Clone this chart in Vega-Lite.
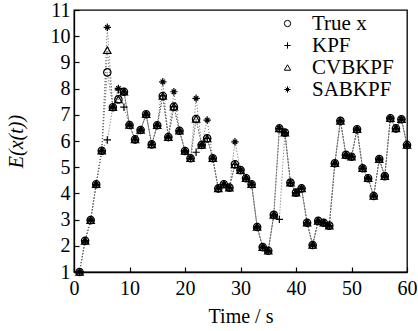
{
  "$schema": "https://vega.github.io/schema/vega-lite/v6.json",
  "width": 333,
  "height": 262,
  "autosize": {"type": "none"},
  "padding": {"left": 74, "top": 10, "right": 11, "bottom": 59},
  "background": "white",
  "config": {
    "font": "Liberation Serif",
    "view": {"stroke": "black", "strokeWidth": 1.3},
    "axis": {
      "domainColor": "black", "tickColor": "black", "labelColor": "black", "titleColor": "black",
      "labelFont": "Liberation Serif", "titleFont": "Liberation Serif",
      "labelFontSize": 20, "titleFontSize": 20, "titleFontWeight": "normal",
      "grid": false, "tickSize": -5, "domainWidth": 1.3, "tickWidth": 1.2
    },
    "legend": {"labelFont": "Liberation Serif", "labelFontSize": 21, "labelColor": "black"}
  },
  "data": {"values": [
    {"t":1,"s":"True x","v":1.0},{"t":2,"s":"True x","v":2.19},{"t":3,"s":"True x","v":2.98},{"t":4,"s":"True x","v":4.35},{"t":5,"s":"True x","v":5.63},{"t":6,"s":"True x","v":8.62},{"t":7,"s":"True x","v":7.29},{"t":8,"s":"True x","v":7.59},{"t":9,"s":"True x","v":7.88},{"t":10,"s":"True x","v":6.61},
    {"t":11,"s":"True x","v":6.06},{"t":12,"s":"True x","v":6.42},{"t":13,"s":"True x","v":7.02},{"t":14,"s":"True x","v":5.87},{"t":15,"s":"True x","v":6.6},{"t":16,"s":"True x","v":7.72},{"t":17,"s":"True x","v":6.15},{"t":18,"s":"True x","v":7.31},{"t":19,"s":"True x","v":6.39},{"t":20,"s":"True x","v":5.62},
    {"t":21,"s":"True x","v":5.34},{"t":22,"s":"True x","v":6.84},{"t":23,"s":"True x","v":5.85},{"t":24,"s":"True x","v":6.1},{"t":25,"s":"True x","v":5.34},{"t":26,"s":"True x","v":4.19},{"t":27,"s":"True x","v":4.35},{"t":28,"s":"True x","v":4.22},{"t":29,"s":"True x","v":5.11},{"t":30,"s":"True x","v":4.89},
    {"t":31,"s":"True x","v":4.58},{"t":32,"s":"True x","v":4.35},{"t":33,"s":"True x","v":2.72},{"t":34,"s":"True x","v":1.95},{"t":35,"s":"True x","v":1.81},{"t":36,"s":"True x","v":3.18},{"t":37,"s":"True x","v":6.48},{"t":38,"s":"True x","v":6.32},{"t":39,"s":"True x","v":4.41},{"t":40,"s":"True x","v":4.03},
    {"t":41,"s":"True x","v":4.19},{"t":42,"s":"True x","v":2.88},{"t":43,"s":"True x","v":2.03},{"t":44,"s":"True x","v":2.95},{"t":45,"s":"True x","v":2.88},{"t":46,"s":"True x","v":2.77},{"t":47,"s":"True x","v":5.15},{"t":48,"s":"True x","v":6.77},{"t":49,"s":"True x","v":5.47},{"t":50,"s":"True x","v":5.4},
    {"t":51,"s":"True x","v":6.45},{"t":52,"s":"True x","v":4.96},{"t":53,"s":"True x","v":4.58},{"t":54,"s":"True x","v":3.9},{"t":55,"s":"True x","v":5.31},{"t":56,"s":"True x","v":4.66},{"t":57,"s":"True x","v":6.87},{"t":58,"s":"True x","v":6.48},{"t":59,"s":"True x","v":6.83},{"t":60,"s":"True x","v":5.85},

    {"t":1,"s":"KPF","v":1.0},{"t":2,"s":"KPF","v":2.19},{"t":3,"s":"KPF","v":2.98},{"t":4,"s":"KPF","v":4.35},{"t":5,"s":"KPF","v":5.63},{"t":6,"s":"KPF","v":6.04},{"t":7,"s":"KPF","v":7.29},{"t":8,"s":"KPF","v":7.95},{"t":9,"s":"KPF","v":7.29},{"t":10,"s":"KPF","v":6.61},
    {"t":11,"s":"KPF","v":6.06},{"t":12,"s":"KPF","v":6.42},{"t":13,"s":"KPF","v":7.02},{"t":14,"s":"KPF","v":5.87},{"t":15,"s":"KPF","v":6.6},{"t":16,"s":"KPF","v":7.72},{"t":17,"s":"KPF","v":6.15},{"t":18,"s":"KPF","v":7.31},{"t":19,"s":"KPF","v":6.39},{"t":20,"s":"KPF","v":5.62},
    {"t":21,"s":"KPF","v":5.34},{"t":22,"s":"KPF","v":5.57},{"t":23,"s":"KPF","v":5.85},{"t":24,"s":"KPF","v":6.1},{"t":25,"s":"KPF","v":5.34},{"t":26,"s":"KPF","v":4.19},{"t":27,"s":"KPF","v":4.35},{"t":28,"s":"KPF","v":4.22},{"t":29,"s":"KPF","v":5.11},{"t":30,"s":"KPF","v":4.89},
    {"t":31,"s":"KPF","v":4.58},{"t":32,"s":"KPF","v":4.35},{"t":33,"s":"KPF","v":2.72},{"t":34,"s":"KPF","v":1.95},{"t":35,"s":"KPF","v":1.81},{"t":36,"s":"KPF","v":3.18},{"t":37,"s":"KPF","v":3.01},{"t":38,"s":"KPF","v":6.32},{"t":39,"s":"KPF","v":4.41},{"t":40,"s":"KPF","v":4.03},
    {"t":41,"s":"KPF","v":4.19},{"t":42,"s":"KPF","v":2.88},{"t":43,"s":"KPF","v":2.03},{"t":44,"s":"KPF","v":2.95},{"t":45,"s":"KPF","v":2.88},{"t":46,"s":"KPF","v":2.77},{"t":47,"s":"KPF","v":5.15},{"t":48,"s":"KPF","v":6.77},{"t":49,"s":"KPF","v":5.47},{"t":50,"s":"KPF","v":5.4},
    {"t":51,"s":"KPF","v":6.45},{"t":52,"s":"KPF","v":4.96},{"t":53,"s":"KPF","v":4.58},{"t":54,"s":"KPF","v":3.9},{"t":55,"s":"KPF","v":5.31},{"t":56,"s":"KPF","v":4.66},{"t":57,"s":"KPF","v":6.87},{"t":58,"s":"KPF","v":6.48},{"t":59,"s":"KPF","v":6.83},{"t":60,"s":"KPF","v":5.85},

    {"t":1,"s":"CVBKPF","v":1.0},{"t":2,"s":"CVBKPF","v":2.19},{"t":3,"s":"CVBKPF","v":2.98},{"t":4,"s":"CVBKPF","v":4.35},{"t":5,"s":"CVBKPF","v":5.63},{"t":6,"s":"CVBKPF","v":9.47},{"t":7,"s":"CVBKPF","v":7.29},{"t":8,"s":"CVBKPF","v":7.59},{"t":9,"s":"CVBKPF","v":7.88},{"t":10,"s":"CVBKPF","v":6.61},
    {"t":11,"s":"CVBKPF","v":6.06},{"t":12,"s":"CVBKPF","v":6.42},{"t":13,"s":"CVBKPF","v":7.02},{"t":14,"s":"CVBKPF","v":5.87},{"t":15,"s":"CVBKPF","v":6.6},{"t":16,"s":"CVBKPF","v":7.72},{"t":17,"s":"CVBKPF","v":6.15},{"t":18,"s":"CVBKPF","v":7.31},{"t":19,"s":"CVBKPF","v":6.39},{"t":20,"s":"CVBKPF","v":5.62},
    {"t":21,"s":"CVBKPF","v":5.34},{"t":22,"s":"CVBKPF","v":6.84},{"t":23,"s":"CVBKPF","v":5.85},{"t":24,"s":"CVBKPF","v":6.1},{"t":25,"s":"CVBKPF","v":5.34},{"t":26,"s":"CVBKPF","v":4.19},{"t":27,"s":"CVBKPF","v":4.35},{"t":28,"s":"CVBKPF","v":4.22},{"t":29,"s":"CVBKPF","v":5.11},{"t":30,"s":"CVBKPF","v":4.89},
    {"t":31,"s":"CVBKPF","v":4.58},{"t":32,"s":"CVBKPF","v":4.35},{"t":33,"s":"CVBKPF","v":2.72},{"t":34,"s":"CVBKPF","v":1.95},{"t":35,"s":"CVBKPF","v":1.81},{"t":36,"s":"CVBKPF","v":3.18},{"t":37,"s":"CVBKPF","v":6.48},{"t":38,"s":"CVBKPF","v":6.32},{"t":39,"s":"CVBKPF","v":4.41},{"t":40,"s":"CVBKPF","v":4.03},
    {"t":41,"s":"CVBKPF","v":4.19},{"t":42,"s":"CVBKPF","v":2.88},{"t":43,"s":"CVBKPF","v":2.03},{"t":44,"s":"CVBKPF","v":2.95},{"t":45,"s":"CVBKPF","v":2.88},{"t":46,"s":"CVBKPF","v":2.77},{"t":47,"s":"CVBKPF","v":5.15},{"t":48,"s":"CVBKPF","v":6.77},{"t":49,"s":"CVBKPF","v":5.47},{"t":50,"s":"CVBKPF","v":5.4},
    {"t":51,"s":"CVBKPF","v":6.45},{"t":52,"s":"CVBKPF","v":4.96},{"t":53,"s":"CVBKPF","v":4.58},{"t":54,"s":"CVBKPF","v":3.9},{"t":55,"s":"CVBKPF","v":5.31},{"t":56,"s":"CVBKPF","v":4.66},{"t":57,"s":"CVBKPF","v":6.87},{"t":58,"s":"CVBKPF","v":6.48},{"t":59,"s":"CVBKPF","v":6.83},{"t":60,"s":"CVBKPF","v":5.85},

    {"t":1,"s":"SABKPF","v":1.0},{"t":2,"s":"SABKPF","v":2.19},{"t":3,"s":"SABKPF","v":2.98},{"t":4,"s":"SABKPF","v":4.35},{"t":5,"s":"SABKPF","v":5.63},{"t":6,"s":"SABKPF","v":10.34},{"t":7,"s":"SABKPF","v":7.29},{"t":8,"s":"SABKPF","v":8.01},{"t":9,"s":"SABKPF","v":7.88},{"t":10,"s":"SABKPF","v":6.61},
    {"t":11,"s":"SABKPF","v":6.06},{"t":12,"s":"SABKPF","v":6.42},{"t":13,"s":"SABKPF","v":7.02},{"t":14,"s":"SABKPF","v":5.87},{"t":15,"s":"SABKPF","v":6.6},{"t":16,"s":"SABKPF","v":8.26},{"t":17,"s":"SABKPF","v":6.15},{"t":18,"s":"SABKPF","v":7.88},{"t":19,"s":"SABKPF","v":6.39},{"t":20,"s":"SABKPF","v":5.62},
    {"t":21,"s":"SABKPF","v":5.34},{"t":22,"s":"SABKPF","v":7.63},{"t":23,"s":"SABKPF","v":5.85},{"t":24,"s":"SABKPF","v":6.8},{"t":25,"s":"SABKPF","v":5.34},{"t":26,"s":"SABKPF","v":4.19},{"t":27,"s":"SABKPF","v":4.35},{"t":28,"s":"SABKPF","v":4.22},{"t":29,"s":"SABKPF","v":5.97},{"t":30,"s":"SABKPF","v":4.89},
    {"t":31,"s":"SABKPF","v":4.58},{"t":32,"s":"SABKPF","v":4.35},{"t":33,"s":"SABKPF","v":2.72},{"t":34,"s":"SABKPF","v":1.95},{"t":35,"s":"SABKPF","v":1.81},{"t":36,"s":"SABKPF","v":3.18},{"t":37,"s":"SABKPF","v":6.48},{"t":38,"s":"SABKPF","v":6.32},{"t":39,"s":"SABKPF","v":4.41},{"t":40,"s":"SABKPF","v":4.03},
    {"t":41,"s":"SABKPF","v":4.19},{"t":42,"s":"SABKPF","v":2.88},{"t":43,"s":"SABKPF","v":2.03},{"t":44,"s":"SABKPF","v":2.95},{"t":45,"s":"SABKPF","v":2.88},{"t":46,"s":"SABKPF","v":2.77},{"t":47,"s":"SABKPF","v":5.15},{"t":48,"s":"SABKPF","v":6.77},{"t":49,"s":"SABKPF","v":5.47},{"t":50,"s":"SABKPF","v":5.4},
    {"t":51,"s":"SABKPF","v":6.45},{"t":52,"s":"SABKPF","v":4.96},{"t":53,"s":"SABKPF","v":4.58},{"t":54,"s":"SABKPF","v":3.9},{"t":55,"s":"SABKPF","v":5.31},{"t":56,"s":"SABKPF","v":4.66},{"t":57,"s":"SABKPF","v":6.87},{"t":58,"s":"SABKPF","v":6.48},{"t":59,"s":"SABKPF","v":6.83},{"t":60,"s":"SABKPF","v":5.85}
  ]},
  "encoding": {
    "x": {"field": "t", "type": "quantitative", "scale": {"domain": [0, 60], "nice": false},
          "axis": {"title": "Time / s", "values": [0,10,20,30,40,50,60], "labelPadding": 11, "titlePadding": 8, "labelFlush": false}},
    "y": {"field": "v", "type": "quantitative", "scale": {"domain": [1, 11], "nice": false, "zero": false},
          "axis": {"title": "E(x(t))", "titleFontStyle": "italic", "values": [1,2,3,4,5,6,7,8,9,10,11], "labelPadding": 9, "titlePadding": 24, "labelFlush": false}}
  },
  "layer": [
    {
      "mark": {"type": "line", "strokeDash": [1, 2], "strokeWidth": 1, "color": "#666"},
      "encoding": {"detail": {"field": "s"}}
    },
    {
      "mark": {"type": "point", "filled": false, "color": "black", "strokeWidth": 1.2, "opacity": 1, "size": 55},
      "encoding": {
        "shape": {"field": "s", "type": "nominal",
          "scale": {"domain": ["True x", "KPF", "CVBKPF", "SABKPF"],
                    "range": ["circle", "M-1,0H1M0,-1V1", "triangle-up", "M-1,0H1M0,-1V1M-0.6,-0.6L0.6,0.6M-0.6,0.6L0.6,-0.6"]},
          "legend": {"title": null, "orient": "none", "legendX": 203, "legendY": 3, "rowPadding": 0,
                     "symbolSize": 40, "symbolStrokeColor": "black", "symbolFillColor": "transparent", "symbolStrokeWidth": 1, "labelOffset": 14}}
      }
    }
  ]
}
